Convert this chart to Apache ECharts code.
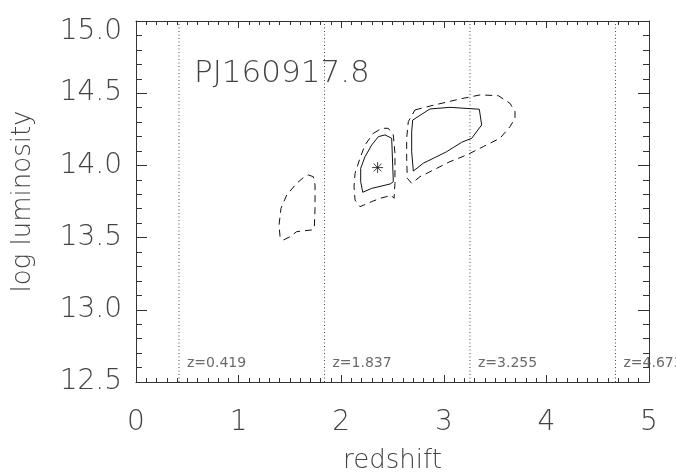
<!DOCTYPE html>
<html>
<head>
<meta charset="utf-8">
<script src="https://cdn.jsdelivr.net/npm/echarts@6/dist/echarts.min.js"></script>
<style>html,body{margin:0;padding:0;background:#fff}#c{width:676px;height:475px}</style>
</head>
<body>
<div id="c"></div>
<script>
// ---- data ----
var sourceName = 'PJ160917.8';
var xTicks = [0, 1, 2, 3, 4, 5];
var yTicks = [12.5, 13.0, 13.5, 14.0, 14.5, 15.0];
var zMarks = [0.419, 1.837, 3.255, 4.673];
var zLabels = ['z=0.419', 'z=1.837', 'z=3.255', 'z=4.673'];
var bestFit = [[2.355, 13.985]];
// inner solid contour around best fit
var innerSolid = [[2.362,14.199],[2.427,14.211],[2.492,14.188],[2.508,13.887],[2.476,13.871],[2.297,13.841],[2.210,13.814],[2.190,13.887],[2.190,13.980],[2.232,14.060],[2.297,14.141]];
// inner dashed contour
var innerDashed = [[2.313,14.222],[2.395,14.257],[2.459,14.257],[2.508,14.211],[2.524,14.084],[2.524,13.876],[2.515,13.772],[2.490,13.792],[2.378,13.772],[2.297,13.749],[2.183,13.714],[2.135,13.760],[2.125,13.853],[2.135,13.945],[2.183,14.049],[2.232,14.141]];
// high-z solid contour
var highSolid = [[2.697,14.314],[2.865,14.391],[3.060,14.402],[3.346,14.389],[3.369,14.280],[3.272,14.188],[3.174,14.160],[3.028,14.095],[2.898,14.049],[2.800,14.015],[2.703,13.961],[2.687,14.095],[2.687,14.233]];
// high-z dashed contour
var highDashed = [[2.719,14.384],[2.865,14.411],[3.158,14.460],[3.353,14.488],[3.531,14.483],[3.645,14.430],[3.694,14.372],[3.694,14.326],[3.645,14.268],[3.548,14.188],[3.385,14.130],[3.223,14.072],[3.060,14.026],[2.898,13.968],[2.768,13.922],[2.687,13.876],[2.644,13.911],[2.638,14.049],[2.638,14.188],[2.654,14.303]];
// low-z dashed contour
var lowDashed = [[1.679,13.934],[1.728,13.922],[1.745,13.864],[1.745,13.703],[1.738,13.564],[1.712,13.553],[1.566,13.541],[1.501,13.506],[1.436,13.483],[1.404,13.506],[1.394,13.587],[1.413,13.703],[1.469,13.795],[1.566,13.876],[1.631,13.915]];
var zLabelY = 12.63;

// ---- chart ----
var FONT = 'DejaVu Sans';
var TXT = '#444';
function closed(a){ return a.concat([a[0]]); }
function contour(a, dashed){
  return {type:'line', data: closed(a), symbol:'none', silent:true, animation:false,
    lineStyle:{color:'#111', width:1, type: dashed ? [7,5] : 'solid'}, z:3};
}
var series = [];
zMarks.forEach(function(z, i){
  series.push({type:'line', data:[[z,12.5],[z,15.0]], symbol:'none', silent:true, animation:false,
    lineStyle:{color:'#444', width:1, type:[1,2.5]}, z:1});
  series.push({type:'scatter', data:[[z, zLabelY]], symbolSize:0, silent:true, animation:false,
    label:{show:true, position:'right', distance:8, formatter: zLabels[i], color:'#444',
      fontFamily:FONT, fontSize:14, fontWeight:'normal'}, z:2});
});
series.push(contour(innerSolid,false));
series.push(contour(innerDashed,true));
series.push(contour(highSolid,false));
series.push(contour(highDashed,true));
series.push(contour(lowDashed,true));
series.push({type:'scatter', data: bestFit, silent:true, animation:false,
  symbol:'path://M0,-10L0,10M-10,0L10,0M-7.07,-7.07L7.07,7.07M-7.07,7.07L7.07,-7.07',
  symbolSize:11, symbolKeepAspect:true,
  itemStyle:{color:'none', borderColor:'#111', borderWidth:1}, z:4});

function xAx(pos, show){
  return {type:'value', position:pos, min:xTicks[0], max:xTicks[xTicks.length-1], interval:1,
    axisLine:{show:true, onZero:false, lineStyle:{color:'#333', width:1}},
    axisTick:{show:true, inside:true, length:7, lineStyle:{color:'#333'}},
    minorTick:{show:true, splitNumber:10, length:4, lineStyle:{color:'#333'}},
    splitLine:{show:false},
    axisLabel:{show:show, margin:27, color:TXT, fontFamily:FONT, fontSize:28, fontWeight:200},
    name: show ? 'redshift' : '', nameLocation:'middle', nameGap:66,
    nameTextStyle:{color:TXT, fontFamily:FONT, fontSize:26, fontWeight:200}};
}
function yAx(pos, show){
  return {type:'value', position:pos, min:yTicks[0], max:yTicks[yTicks.length-1], interval:0.5,
    axisLine:{show:true, onZero:false, lineStyle:{color:'#333', width:1}},
    axisTick:{show:true, inside:true, length:11, lineStyle:{color:'#333'}},
    minorTick:{show:true, splitNumber:5, length:6, lineStyle:{color:'#333'}},
    splitLine:{show:false},
    axisLabel:{show:show, margin:14, color:TXT, fontFamily:FONT, fontSize:28, fontWeight:200,
      formatter:function(v){
        var s = v.toFixed(1);
        return v >= yTicks[yTicks.length-1] ? '{top|' + s + '}' : s;
      },
      rich:{top:{padding:[22,0,0,0], color:TXT, fontFamily:FONT, fontSize:28, fontWeight:200}}},
    name: show ? 'log luminosity' : '', nameLocation:'middle', nameGap:100,
    nameTextStyle:{color:TXT, fontFamily:FONT, fontSize:26, fontWeight:200}};
}
var chart = echarts.init(document.getElementById('c'), null, {renderer:'canvas'});
chart.setOption({
  backgroundColor:'#fff',
  animation:false,
  title:{text:sourceName, left:189, top:53,
    textStyle:{color:TXT, fontFamily:FONT, fontSize:31, fontWeight:200}},
  grid:{left:136, right:27, top:21, bottom:93, containLabel:false, outerBoundsMode:'none'},
  xAxis:[xAx('bottom', true), xAx('top', false)],
  yAxis:[yAx('left', true), yAx('right', false)],
  series: series
});
</script>
</body>
</html>
